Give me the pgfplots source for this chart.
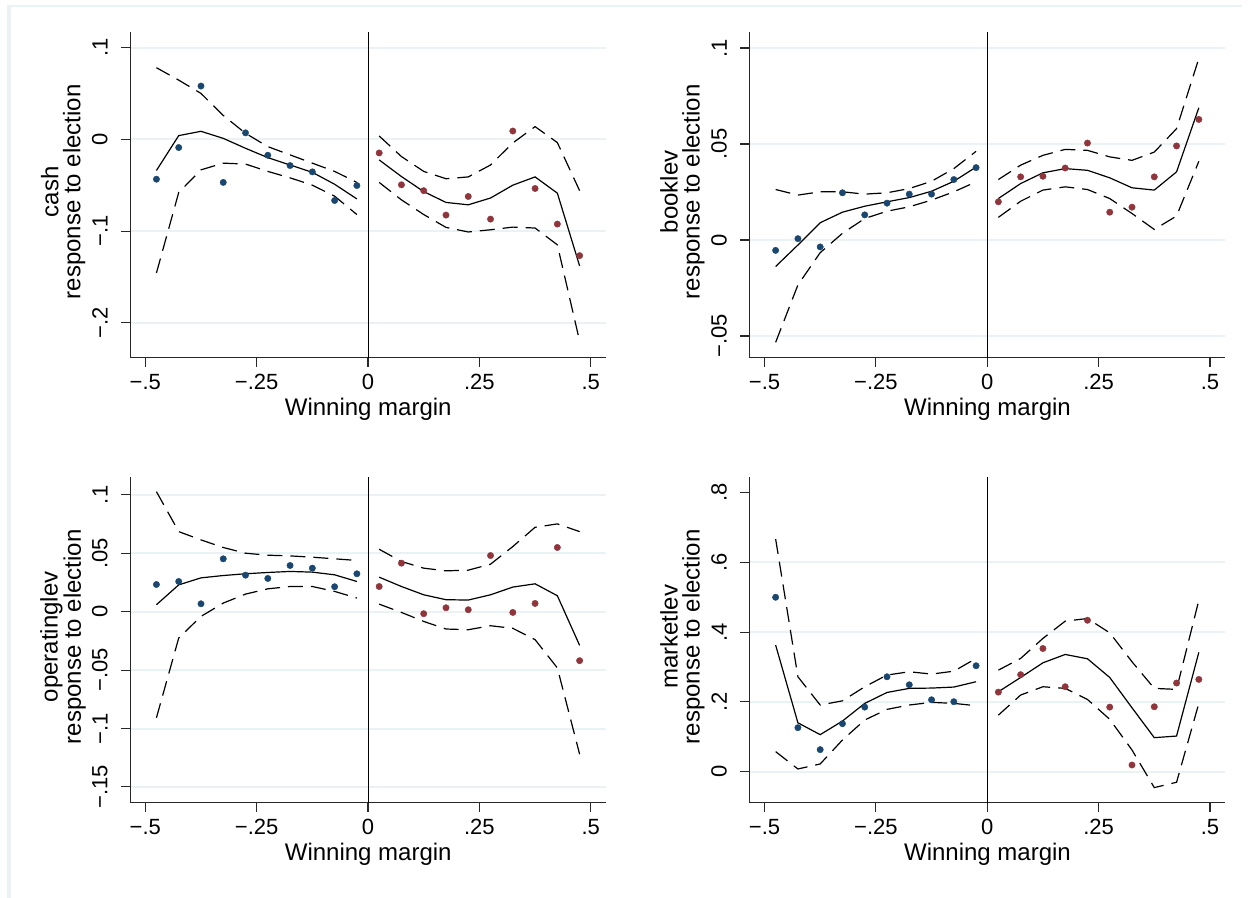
\documentclass[border=0pt]{standalone}
\usepackage{pgfplots}
\usepackage{pgfplotstable}
\pgfplotsset{compat=1.18}
\usepackage{fontspec}
\setmainfont{Liberation Sans}
\definecolor{navy}{RGB}{26,71,111}
\definecolor{maroon}{RGB}{144,53,59}
\definecolor{gridc}{RGB}{234,242,243}
\definecolor{axc}{RGB}{40,40,40}

% columns: x, points, fit, upper CI, lower CI
\pgfplotstableread{
x p f h l
-0.475 -0.0435 -0.034 0.078 -0.1457
-0.425 -0.009 0.004 0.0645 -0.058
-0.375 0.058 0.0087 0.050 -0.0333
-0.325 -0.047 0.001 0.026 -0.026
-0.275 0.007 -0.0098 0.0065 -0.027
-0.225 -0.0174 -0.020 -0.008 -0.035
-0.175 -0.0286 -0.028 -0.017 -0.042
-0.125 -0.0355 -0.036 -0.026 -0.050
-0.075 -0.0667 -0.049 -0.035 -0.062
-0.025 -0.0504 -0.065 -0.047 -0.082
}\cashL
\pgfplotstableread{
x p f h l
0.025 -0.0149 -0.0225 0.0036 -0.047
0.075 -0.0496 -0.0406 -0.0188 -0.066
0.125 -0.056 -0.057 -0.035 -0.082
0.175 -0.0826 -0.0688 -0.043 -0.096
0.225 -0.0623 -0.0714 -0.041 -0.101
0.275 -0.087 -0.064 -0.028 -0.0986
0.325 0.009 -0.050 -0.004 -0.0957
0.375 -0.0536 -0.041 0.0138 -0.0967
0.425 -0.0924 -0.0587 -0.0036 -0.115
0.475 -0.1268 -0.138 -0.056 -0.22
}\cashR
\pgfplotstableread{
x p f h l
-0.475 -0.0054 -0.0138 0.0263 -0.0533
-0.425 0.0007 -0.0026 0.0234 -0.0234
-0.375 -0.0036 0.009 0.0251 -0.0066
-0.325 0.0246 0.0145 0.0251 0.0035
-0.275 0.0131 0.0176 0.0239 0.0112
-0.225 0.0192 0.0199 0.0246 0.015
-0.175 0.0239 0.0221 0.0268 0.0173
-0.125 0.0239 0.0254 0.0306 0.0208
-0.075 0.0315 0.0306 0.0372 0.0251
-0.025 0.0377 0.038 0.0462 0.0303
}\bookL
\pgfplotstableread{
x p f h l
0.025 0.0199 0.0216 0.0315 0.0118
0.075 0.0329 0.0294 0.039 0.0202
0.125 0.0332 0.035 0.0441 0.026
0.175 0.0375 0.0372 0.0472 0.0277
0.225 0.0505 0.0363 0.0467 0.0263
0.275 0.0145 0.0324 0.0433 0.0216
0.325 0.0171 0.0272 0.0415 0.0138
0.375 0.0329 0.026 0.0458 0.0055
0.425 0.049 0.0355 0.058 0.0125
0.475 0.0628 0.0689 0.0946 0.041
}\bookR
\pgfplotstableread{
x p f h l
-0.475 0.0233 0.006 0.1028 -0.0908
-0.425 0.0259 0.023 0.0686 -0.0225
-0.375 0.0068 0.029 0.0615 -0.004
-0.325 0.0453 0.031 0.055 0.0074
-0.275 0.0313 0.0325 0.0501 0.0151
-0.225 0.0285 0.0336 0.0484 0.0196
-0.175 0.0396 0.0345 0.0478 0.0216
-0.125 0.0373 0.0339 0.0467 0.0216
-0.075 0.0214 0.0316 0.0453 0.0174
-0.025 0.0325 0.0259 0.0439 0.0117
}\oplL
\pgfplotstableread{
x p f h l
0.025 0.0216 0.0296 0.0535 0.0065
0.075 0.0416 0.0216 0.043 -0.0006
0.125 -0.0017 0.0145 0.0373 -0.0083
0.175 0.0034 0.0103 0.035 -0.0148
0.225 0.0017 0.010 0.0356 -0.0154
0.275 0.0481 0.0145 0.0407 -0.012
0.325 -0.0006 0.0211 0.0558 -0.0142
0.375 0.0071 0.0239 0.0723 -0.0239
0.425 0.055 0.0137 0.0752 -0.0481
0.475 -0.0419 -0.0288 0.0686 -0.122
}\oplR
\pgfplotstableread{
x p f h l
-0.475 0.500 0.3628 0.667 0.0573
-0.425 0.126 0.140 0.272 0.0076
-0.375 0.063 0.106 0.191 0.022
-0.325 0.1375 0.145 0.203 0.0907
-0.275 0.185 0.1957 0.2434 0.148
-0.225 0.272 0.227 0.277 0.1785
-0.175 0.249 0.2387 0.2864 0.191
-0.125 0.206 0.2396 0.2797 0.1986
-0.075 0.2005 0.2425 0.288 0.1957
-0.025 0.3036 0.2578 0.3246 0.189
}\mktL
\pgfplotstableread{
x p f h l
0.025 0.228 0.229 0.291 0.162
0.075 0.278 0.270 0.3246 0.2196
0.125 0.353 0.312 0.382 0.2434
0.175 0.2434 0.336 0.4315 0.2387
0.225 0.434 0.3236 0.439 0.207
0.275 0.185 0.270 0.398 0.150
0.325 0.019 0.183 0.315 0.062
0.375 0.186 0.0974 0.2387 -0.0458
0.425 0.254 0.102 0.2358 -0.0305
0.475 0.2644 0.342 0.4916 0.1957
}\mktR

\pgfplotsset{
  rd/.style={
    scale only axis, width=475.3bp, height=325.4bp,
    xmin=-0.533, xmax=0.534,
    axis lines=left, axis line style={-, line width=1.3bp, axc},
    tick align=outside, major tick length=9.5bp,
    tick style={line width=1.1bp, axc},
    xtick={-0.5,-0.25,0,0.25,0.5}, xticklabels={−.5,−.25,0,.25,.5},
    ymajorgrids, grid style={line width=2bp, gridc},
    tick label style={font=\fontsize{22bp}{26bp}\selectfont},
    yticklabel style={rotate=90, anchor=south},
    xticklabel style={anchor=base},
    xticklabel shift=22bp,
    yticklabel shift=10bp,
    xlabel={Winning margin},
    every axis x label/.style={at={(axis description cs:0.5,-0.179)}, anchor=base,
      font=\fontsize{24bp}{26bp}\selectfont},
    every axis y label/.style={at={(axis description cs:-0.142,0.51)}, rotate=90,
      anchor=center, align=center, font=\fontsize{24bp}{22bp}\selectfont},
    clip=false,
  },
  pts/.style={only marks, mark=*, mark size=3.2bp},
  fitl/.style={black, line width=1.2bp, no marks},
  cil/.style={black, line width=1.2bp, no marks, dash pattern=on 15bp off 8bp},
}
\newcommand\side[2]{%
  \addplot[pts, #2] table[x=x,y=p]{#1};
  \addplot[fitl] table[x=x,y=f]{#1};
  \addplot[cil] table[x=x,y=h]{#1};
  \addplot[cil] table[x=x,y=l]{#1};
}

\begin{document}
\begin{tikzpicture}
\useasboundingbox (0bp,0bp) rectangle (1250bp,898bp);
\draw[gridc, line width=4bp] (8.5bp,0bp) -- (8.5bp,892bp);
\draw[gridc, line width=2bp] (6.5bp,892bp) -- (1242bp,892bp);

% cash
\begin{axis}[rd, at={(130.6bp,540.3bp)}, anchor=south west,
  ymin=-0.238, ymax=0.1166,
  ytick={-0.2,-0.1,0,0.1}, yticklabels={−.2,−.1,0,.1},
  ylabel={cash\\response to election}]
  \addplot[black, line width=1bp] coordinates {(0,-0.238) (0,0.1166)};
  \side{\cashL}{navy}
  \side{\cashR}{maroon}
\end{axis}

% booklev
\begin{axis}[rd, at={(749.8bp,540.3bp)}, anchor=south west,
  ymin=-0.0613, ymax=0.1082,
  ytick={-0.05,0,0.05,0.1}, yticklabels={−.05,0,.05,.1},
  ylabel={booklev\\response to election}]
  \addplot[black, line width=1bp] coordinates {(0,-0.0613) (0,0.1082)};
  \side{\bookL}{navy}
  \side{\bookR}{maroon}
\end{axis}

% operatinglev
\begin{axis}[rd, at={(130.6bp,95.3bp)}, anchor=south west,
  ymin=-0.1635, ymax=0.1151,
  ytick={-0.15,-0.1,-0.05,0,0.05,0.1}, yticklabels={−.15,−.1,−.05,0,.05,.1},
  ylabel={operatinglev\\response to election}]
  \addplot[black, line width=1bp] coordinates {(0,-0.1635) (0,0.1151)};
  \side{\oplL}{navy}
  \side{\oplR}{maroon}
\end{axis}

% marketlev
\begin{axis}[rd, at={(749.8bp,95.3bp)}, anchor=south west,
  ymin=-0.0891, ymax=0.844,
  ytick={0,0.2,0.4,0.6}, yticklabels={0,.2,.4,.6},
  extra y ticks={0.8}, extra y tick labels={.8},
  extra y tick style={grid=none},
  ylabel={marketlev\\response to election}]
  \addplot[black, line width=1bp] coordinates {(0,-0.0891) (0,0.844)};
  \side{\mktL}{navy}
  \side{\mktR}{maroon}
\end{axis}
\end{tikzpicture}
\end{document}
